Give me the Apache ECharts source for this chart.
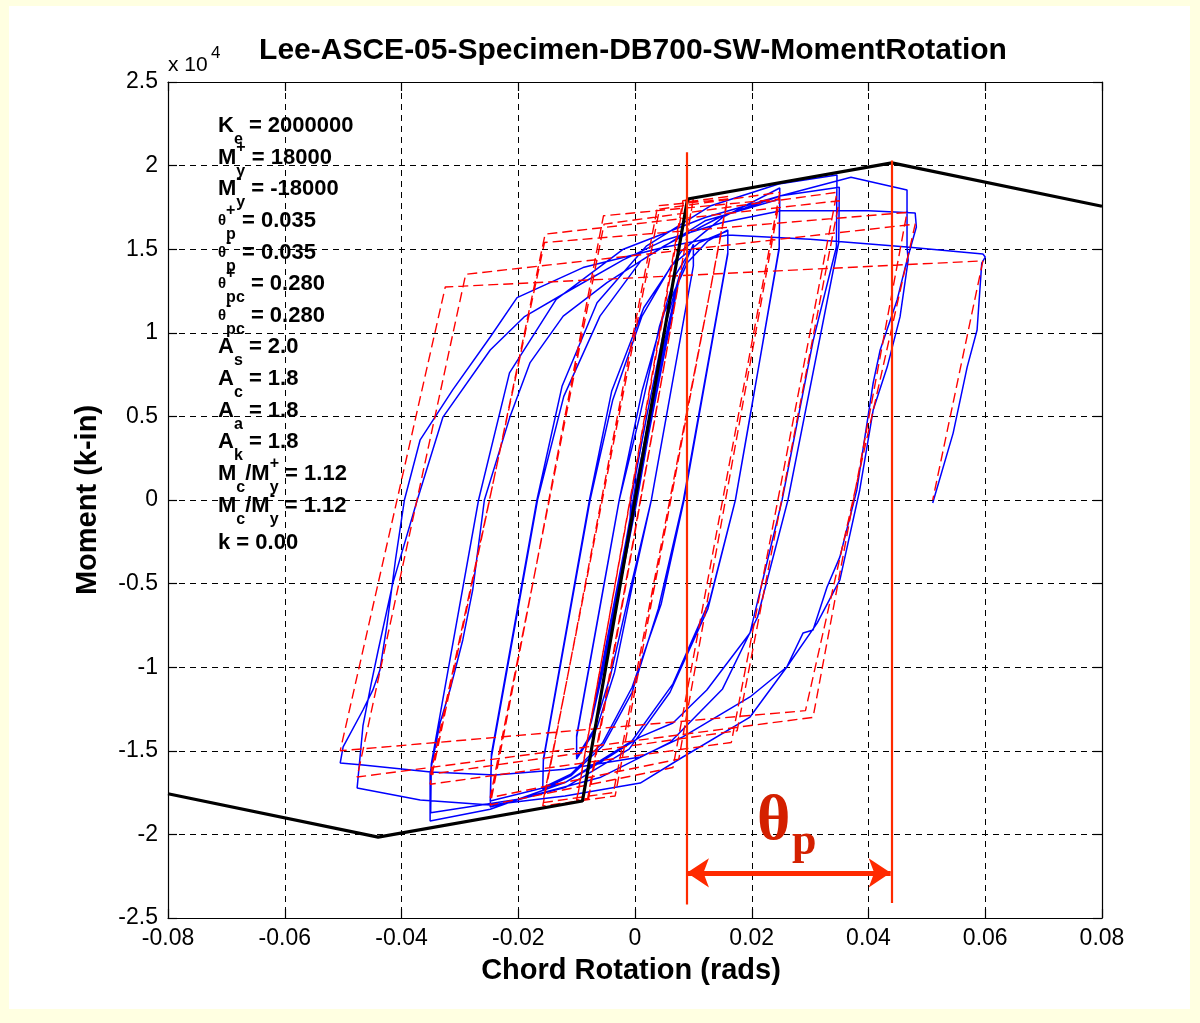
<!DOCTYPE html>
<html>
<head>
<meta charset="utf-8">
<script src="https://cdn.jsdelivr.net/npm/echarts@6/dist/echarts.min.js"></script>
<style>
  html, body { margin: 0; padding: 0; background: #ffffe1; }
  #frame { position: absolute; left: 9px; top: 6px; width: 1181px; height: 1003px; background: #fff; }
  #chart { position: absolute; left: 0; top: 0; width: 1200px; height: 1023px; }
</style>
</head>
<body>
<div id="frame"></div>
<div id="chart"></div>
<script>
// axis ranges (rotation in rad, moment in k-in)
var xMin = -0.08, xMax = 0.08, xStep = 0.02;
var yMin = -25000, yMax = 25000, yStep = 5000;

// backbone (black)
var backbone = [[-0.08, -17568], [-0.044, -20160], [-0.009, -18000], [0.009, 18000], [0.044, 20160], [0.08, 17568]];

// test data (blue)
var blueElastic = [
  [0, 0], [0.0019, 3500], [0.0037, 6600], [0.002, 3300], [0, -200], [-0.0019, -3600], [-0.0037, -6700], [-0.002, -3300],
  [0, 300], [0.0038, 6800], [0.0001, -100], [-0.0038, -6800], [0, 200], [0.0025, 4600], [0.005, 9200], [0.0028, 5000],
  [0, -600], [-0.0025, -4800], [-0.005, -9400], [-0.0027, -5100], [0, 700], [0.0026, 5100], [0.0051, 9400], [0.0002, -300],
  [-0.0051, -9500], [-0.0001, 400], [0.0035, 6800], [0.0075, 13200], [0.005, 9400], [0.0012, 2500], [-0.0025, -4200],
  [-0.0075, -13300], [-0.005, -9500], [-0.0012, -2400], [0.003, 5600], [0.0076, 13300], [0.0008, 1200], [-0.0076, -13400],
  [-0.004, -7000], [0.0036, 6900], [0.0077, 13500], [0.0045, 8200], [0.001, 1800], [-0.0035, -6600], [-0.0077, -13500],
  [-0.0042, -8000], [-0.0009, -1500]
];
var blueMid = [
  [-0.0007, 0], [0.002, 5000], [0.005, 10200], [0.0075, 13300], [0.01, 15300], [0.01, 14000], [0.0028, 0], [-0.0005, -5200],
  [-0.0035, -10300], [-0.0065, -13600], [-0.01, -15500], [-0.01, -14200],
  [-0.0027, 0], [0.0008, 5000], [0.0042, 10400], [0.007, 13500], [0.01, 15200], [0.01, 14000], [0.0028, 0], [-0.0008, -5300],
  [-0.0042, -10500], [-0.007, -13700], [-0.01, -15400], [-0.01, -14100],
  [-0.0027, 0], [0.0012, 6500], [0.005, 11200], [0.009, 14200], [0.0125, 15500], [0.0159, 16150], [0.0159, 14800], [0.0083, 0],
  [0.004, -6500], [-0.0005, -11500], [-0.0055, -14700], [-0.011, -16500], [-0.0158, -17300], [-0.0157, -15600],
  [-0.0077, 0], [-0.0038, 6000], [0.0012, 11000], [0.0062, 14000], [0.011, 15400], [0.0159, 16100], [0.0159, 14700], [0.0084, 0],
  [0.0045, -6200], [-0.0005, -11200], [-0.0055, -14500], [-0.011, -16400], [-0.0158, -17200], [-0.0157, -15500],
  [-0.0078, 0], [-0.004, 6500], [0.0015, 11500], [0.008, 14900], [0.015, 16900], [0.0248, 18660], [0.0247, 15130], [0.0197, 4960],
  [0.0172, 0], [0.0125, -6500], [0.006, -11500], [-0.001, -14900], [-0.012, -17200], [-0.0248, -18360], [-0.0246, -15400],
  [-0.0167, 0], [-0.0122, 6200], [-0.006, 11000], [0.001, 14300], [0.012, 16700], [0.0248, 18000], [0.0247, 15000], [0.0172, 0],
  [0.0128, -6000], [0.0065, -11000], [-0.0005, -14400], [-0.012, -16900], [-0.0248, -18000], [-0.0246, -15200]
];
var blueLarge = [
  [-0.0168, 0], [-0.0125, 6800], [-0.0065, 11800], [0.002, 15200], [0.013, 17600], [0.0246, 18900], [0.0346, 19440],
  [0.0345, 15130], [0.0305, 9500], [0.0252, 0], [0.0197, -7950], [0.0123, -11360], [0.0065, -13340], [0.0009, -14170],
  [-0.006, -15700], [-0.012, -16900], [-0.0248, -18500], [-0.0351, -19200], [-0.0351, -16330],
  [-0.0334, -13340], [-0.0317, -11360], [-0.0295, -8370], [-0.0278, -5380], [-0.0258, 0], [-0.0214, 5000], [-0.018, 8200],
  [-0.0123, 11000], [-0.0048, 13000], [0.005, 15200], [0.015, 17000], [0.025, 18200], [0.035, 18700], [0.0349, 15400],
  [0.0262, 0], [0.021, -7000], [0.015, -11300], [0.006, -14500], [-0.006, -16600], [-0.02, -17900], [-0.035, -18700], [-0.0349, -15800],
  [-0.0268, 0], [-0.0215, 7600], [-0.0135, 12000], [-0.002, 15000], [0.012, 16900], [0.025, 18200], [0.037, 19300], [0.0466, 18540],
  [0.0466, 15130], [0.0468, 14350], [0.0454, 10950], [0.0432, 7950], [0.0408, 5380], [0.0385, 600], [0.0351, -4780],
  [0.0312, -7360], [0.026, -9990], [0.0197, -12980], [0.0082, -15370], [0.0009, -16930], [-0.012, -17700], [-0.0248, -18240],
  [-0.0368, -17940], [-0.0476, -17220],
  [-0.0466, -13500], [-0.0452, -11000], [-0.044, -9000], [-0.0415, -5000], [-0.0373, 0], [-0.0329, 4960], [-0.0248, 8970],
  [-0.019, 10950], [-0.0111, 12560], [-0.0021, 14350], [0.0048, 15500], [0.015, 16600], [0.025, 17300], [0.04, 17300],
  [0.048, 17160], [0.0482, 16330], [0.0466, 14350], [0.0449, 11960], [0.042, 8970], [0.0408, 7000], [0.038, 600],
  [0.0351, -3400], [0.0329, -5200], [0.0305, -7780], [0.0288, -7950], [0.026, -9990], [0.0197, -11780], [0.0082, -14170],
  [0.0009, -15370], [-0.012, -16100], [-0.024, -16450], [-0.035, -16270], [-0.0466, -15850], [-0.0505, -15730]
];
var blueFinal = [
  [-0.05, -14770], [-0.0466, -12560], [-0.0449, -11360], [-0.0437, -10170], [-0.0425, -7500], [-0.041, -3500], [-0.0395, 0],
  [-0.0368, 3600], [-0.0312, 6600], [-0.0248, 9750], [-0.0202, 12100], [-0.0089, 13900], [0.0048, 15100], [0.0159, 15850],
  [0.03, 15600], [0.0466, 15130], [0.0596, 14710], [0.06, 14530], [0.0594, 14170], [0.0586, 10170], [0.0569, 7950],
  [0.0545, 4000], [0.051, -180]
];

// model (red dashed), corner points of each branch
var redElastic = [
  [0, 0], [0.00375, 7500], [-0.00375, -7500], [0.00375, 7500], [-0.00375, -7500], [0.005, 10000], [-0.005, -10000],
  [0.005, 10000], [-0.005, -10000], [0.0075, 15000], [-0.0075, -15000], [0.0075, 15000], [-0.0075, -15000]
];
var redMid = [
  [0.009, 18000], [0.01, 18060], [-0.008, -17950], [-0.01, -18050],
  [0.0082, 17900], [0.01, 17980], [-0.0081, -17850], [-0.01, -17950],
  [0.0083, 17800], [0.0159, 18150], [-0.0034, -17700], [-0.0158, -18300],
  [0.0039, 17600], [0.0159, 18000], [-0.0037, -17500], [-0.0158, -18100],
  [0.0042, 17400], [0.0248, 18400], [0.0065, -16000], [-0.0248, -18240],
  [-0.0054, 17000], [0.0248, 18000], [0.0075, -15500], [-0.0248, -17800]
];
var redLarge = [
  [-0.0053, 16500], [0.0346, 18400], [0.0165, -14500], [-0.0351, -17000],
  [-0.0154, 15900], [0.035, 17900], [0.0175, -13800], [-0.035, -16400],
  [-0.0155, 15400], [0.0466, 17200], [0.0305, -13000], [-0.0476, -16570],
  [-0.029, 13500], [0.048, 16500], [0.0292, -12600], [-0.0505, -15000],
  [-0.0325, 12740], [0.0596, 14300], [0.051, 0]
];

// theta_p markers
var thetaLines = [[[0.0088, 20800], [0.0088, -24200]], [[0.0439, 20300], [0.0439, -24100]]];
var thetaArrow = [[0.0089, -22300], [0.0438, -22300]];

// parameter box
var paramLines = [
  [['K'], ['e', 'sub'], [' = 2000000']],
  [['M'], ['+', 'sup'], ['y', 'sub'], [' = 18000']],
  [['M'], ['-', 'sup'], ['y', 'sub'], [' = -18000']],
  [['θ', 'theta'], ['+', 'sup'], ['p', 'sub'], [' = 0.035']],
  [['θ', 'theta'], ['-', 'sup'], ['p', 'sub'], [' = 0.035']],
  [['θ', 'theta'], ['+', 'sup'], ['pc', 'sub'], [' = 0.280']],
  [['θ', 'theta'], ['-', 'sup'], ['pc', 'sub'], [' = 0.280']],
  [['A'], ['s', 'sub'], [' = 2.0']],
  [['A'], ['c', 'sub'], [' = 1.8']],
  [['A'], ['a', 'sub'], [' = 1.8']],
  [['A'], ['k', 'sub'], [' = 1.8']],
  [['M'], ['c', 'sub'], ['/M'], ['+', 'sup'], ['y', 'sub'], [' = 1.12']],
  [['M'], ['c', 'sub'], ['/M'], ['-', 'sup'], ['y', 'sub'], [' = 1.12']],
  [['k = 0.00']]
];
var paramRowY = [126, 158, 189, 221, 253, 284, 316, 347, 379, 411, 442, 474, 506, 543];

var FAMILY = '"Liberation Sans", Arial, sans-serif';
var measureCtx = document.createElement('canvas').getContext('2d');
function measure(text, font) {
  measureCtx.font = font;
  return measureCtx.measureText(text).width;
}
function textEl(x, y, text, font, color, align, rotation) {
  return {
    type: 'text', x: x, y: y, rotation: rotation || 0, silent: true, z: 100,
    style: {
      text: text, font: font, fill: color || '#000',
      align: align || 'left', verticalAlign: 'middle',
      textAlign: align || 'left', textVerticalAlign: 'middle'
    }
  };
}

var graphics = [];
var baseFont = 'bold 22px ' + FAMILY;
var scriptFont = 'bold 16px ' + FAMILY;
var thetaFont = 'bold 15px ' + FAMILY;
paramLines.forEach(function (tokens, i) {
  var x = 218, y = paramRowY[i], supX = null, supW = 0;
  tokens.forEach(function (tk) {
    var txt = tk[0], kind = tk[1] || 'base';
    var font = kind === 'base' ? baseFont : (kind === 'theta' ? thetaFont : scriptFont);
    var w = measure(txt, font);
    var dy = kind === 'sup' ? -10 : (kind === 'sub' ? 14 : 0);
    var px = (kind === 'sub' && supX !== null) ? supX : x;
    graphics.push(textEl(px, y + dy, txt, font));
    if (kind === 'sup') { supX = x; supW = w; x += w; }
    else if (kind === 'sub' && supX !== null) { x = supX + Math.max(w, supW); supX = null; }
    else { x += w; supX = null; }
  });
});

graphics.push(textEl(633, 51, 'Lee-ASCE-05-Specimen-DB700-SW-MomentRotation', 'bold 30px ' + FAMILY, '#000', 'center'));
graphics.push(textEl(631, 971, 'Chord Rotation (rads)', 'bold 29px ' + FAMILY, '#000', 'center'));
graphics.push(textEl(88, 500, 'Moment (k-in)', 'bold 29px ' + FAMILY, '#000', 'center', Math.PI / 2));
graphics.push(textEl(168, 65, 'x 10', '21px ' + FAMILY));
graphics.push(textEl(211, 53, '4', '17px ' + FAMILY));
graphics.push(textEl(757, 822, 'θ', 'bold 64px "Liberation Serif", serif', '#d42000'));
graphics.push(textEl(792, 843, 'p', 'bold 44px "Liberation Serif", serif', '#d42000'));

var chart = echarts.init(document.getElementById('chart'));

function boxAxis(pos) {
  return {
    type: 'value', position: pos,
    axisLine: { show: true, onZero: false, lineStyle: { color: '#000', width: 1.2 } },
    axisTick: { show: true, inside: true, length: 9, lineStyle: { color: '#000', width: 1.2 } },
    axisLabel: { show: false },
    splitLine: { show: false }
  };
}
var gridDash = { color: '#000', width: 1, type: [6, 5] };

var xBottom = boxAxis('bottom');
xBottom.axisLabel = {
  show: true, fontSize: 23, color: '#000', fontFamily: FAMILY, margin: 9,
  formatter: function (v) { return String(+v.toFixed(2)); }
};
xBottom.splitLine = { show: true, lineStyle: gridDash };
var yLeft = boxAxis('left');
yLeft.axisLabel = {
  show: true, fontSize: 23, color: '#000', fontFamily: FAMILY, margin: 10,
  formatter: function (v) { return String(+(v / 1e4).toFixed(1)); }
};
yLeft.splitLine = { show: true, lineStyle: gridDash };

var xAxes = [xBottom, boxAxis('top')].map(function (a) { a.min = xMin; a.max = xMax; a.interval = xStep; return a; });
var yAxes = [yLeft, boxAxis('right')].map(function (a) { a.min = yMin; a.max = yMax; a.interval = yStep; return a; });

var option = {
  animation: false,
  textStyle: { fontFamily: FAMILY },
  grid: { left: 168, top: 82, width: 934, height: 836, outerBoundsMode: 'none' },
  xAxis: xAxes,
  yAxis: yAxes,
  series: [
    {
      name: 'Test', type: 'line', data: [].concat(blueElastic, blueMid, blueLarge, blueFinal),
      symbol: 'none', silent: true, z: 3,
      lineStyle: { color: '#0000ff', width: 1.5 }
    },
    {
      name: 'Model', type: 'line', data: [].concat(redElastic, redMid, redLarge),
      symbol: 'none', silent: true, z: 4,
      lineStyle: { color: '#ff0000', width: 1.4, type: [10, 5] }
    },
    {
      name: 'Backbone', type: 'line', data: backbone,
      symbol: 'none', silent: true, z: 5,
      lineStyle: { color: '#000', width: 3.2 }
    },
    {
      type: 'lines', coordinateSystem: 'cartesian2d', silent: true, z: 6,
      data: thetaLines.map(function (c) { return { coords: c }; }),
      lineStyle: { color: '#ff2a00', width: 2.2, opacity: 1 }
    },
    {
      type: 'lines', coordinateSystem: 'cartesian2d', silent: true, z: 6,
      data: [{ coords: thetaArrow }],
      symbol: ['arrow', 'arrow'], symbolSize: 22,
      lineStyle: { color: '#ff2a00', width: 5, opacity: 1 }
    }
  ],
  graphic: graphics
};

option && chart.setOption(option);
</script>
</body>
</html>
